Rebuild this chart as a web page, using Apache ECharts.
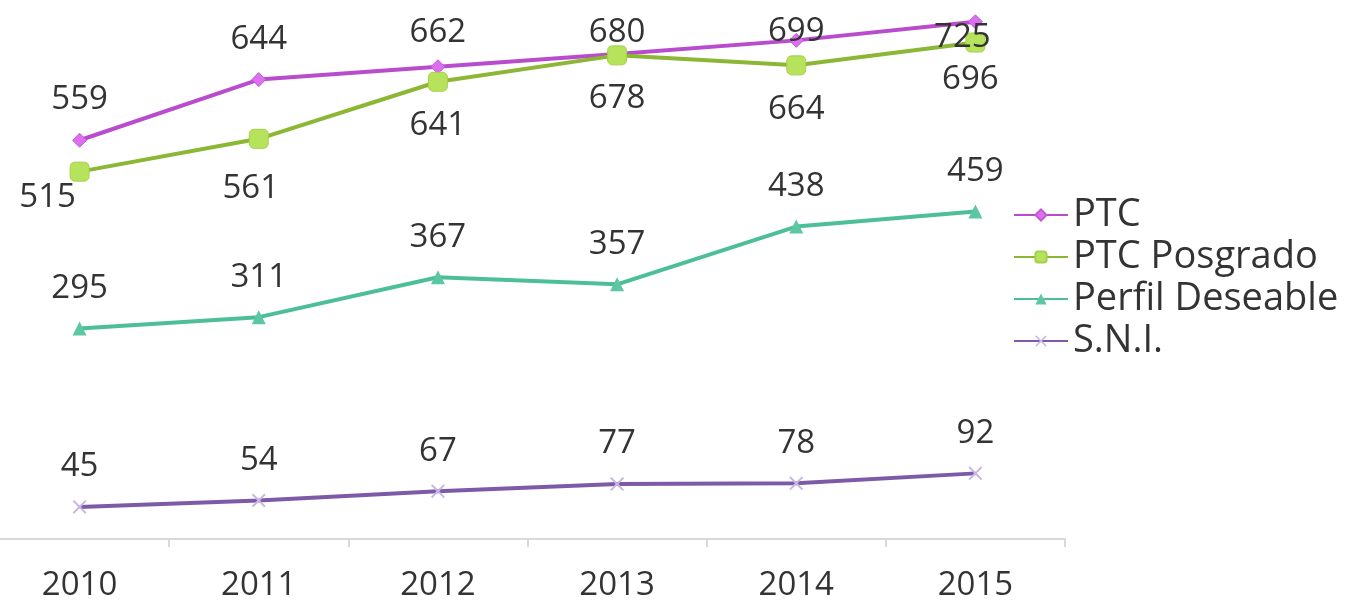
<!DOCTYPE html>
<html>
<head>
<meta charset="utf-8">
<script src="https://cdn.jsdelivr.net/npm/echarts@6/dist/echarts.min.js"></script>
<style>
  html, body { margin: 0; padding: 0; background: #fff; }
  #chart { width: 1372px; height: 615px; }
</style>
</head>
<body>
<div id="chart"></div>
<script>
const years = ['2010', '2011', '2012', '2013', '2014', '2015'];
const ptc = [559, 644, 662, 680, 699, 725];
const ptcPosgrado = [515, 561, 641, 678, 664, 696];
const perfilDeseable = [295, 311, 367, 357, 438, 459];
const sni = [45, 54, 67, 77, 78, 92];

const font = '"Open Sans", sans-serif';
const labelText = { fontFamily: font, fontSize: 33, color: '#333', lineHeight: 32 };

// label nudges where the original keeps text inside the plot top
const ptcNudge = [[0, 0], [0, 0], [0, 6], [0, 19], [0, 32], [-13, 56]];
const posNudge = [[-32, -18], [-8, 6], [0, 0], [0, -1], [0, 0], [-5, -7]];

function withNudge(values, nudge) {
  return values.map((v, i) => ({ value: v, label: { offset: nudge[i] } }));
}

const xShape = 'path://M0,1L1,0L5,4L9,0L10,1L6,5L10,9L9,10L5,6L1,10L0,9L4,5Z';

const chart = echarts.init(document.getElementById('chart'));
chart.setOption({
  animation: false,
  grid: { left: -10, right: 307, top: 4, bottom: 76, outerBoundsMode: 'none' },
  legend: {
    orient: 'vertical',
    left: 1008,
    top: 189,
    itemWidth: 54,
    itemHeight: 14,
    itemGap: 0,
    textStyle: { fontFamily: font, fontSize: 38, color: '#333', lineHeight: 42, height: 42 },
    data: ['PTC', 'PTC Posgrado', 'Perfil Deseable', 'S.N.I.']
  },
  xAxis: {
    type: 'category',
    data: years,
    axisLine: { lineStyle: { color: '#d9d9d9', width: 2 } },
    axisTick: { show: true, length: 8, lineStyle: { color: '#d9d9d9', width: 2 } },
    axisLabel: { fontFamily: font, fontSize: 33, color: '#333', margin: 30 }
  },
  yAxis: {
    type: 'value',
    min: 0,
    max: 750,
    show: false,
    splitLine: { show: false }
  },
  series: [
    {
      name: 'PTC',
      type: 'line',
      data: withNudge(ptc, ptcNudge),
      symbol: 'diamond',
      symbolSize: 14,
      lineStyle: { color: '#b94ccc', width: 4 },
      itemStyle: { color: '#dd6ef0', borderColor: '#c05ad3', borderWidth: 1 },
      label: { show: true, position: 'top', distance: 17, ...labelText }
    },
    {
      name: 'PTC Posgrado',
      type: 'line',
      data: withNudge(ptcPosgrado, posNudge),
      symbol: 'roundRect',
      symbolSize: 19,
      lineStyle: { color: '#8cb735', width: 4 },
      itemStyle: { color: '#b7e35c', borderColor: '#a6d04a', borderWidth: 1 },
      label: { show: true, position: 'bottom', distance: 18, ...labelText }
    },
    {
      name: 'Perfil Deseable',
      type: 'line',
      data: perfilDeseable,
      symbol: 'triangle',
      symbolSize: 14,
      lineStyle: { color: '#4dbf98', width: 4 },
      itemStyle: { color: '#5cc7a3' },
      label: { show: true, position: 'top', distance: 17, ...labelText }
    },
    {
      name: 'S.N.I.',
      type: 'line',
      data: sni,
      symbol: xShape,
      symbolSize: 14,
      lineStyle: { color: '#7d5aa8', width: 4 },
      itemStyle: { color: '#c8b8e0' },
      label: { show: true, position: 'top', distance: 17, ...labelText }
    }
  ]
});
</script>
</body>
</html>
